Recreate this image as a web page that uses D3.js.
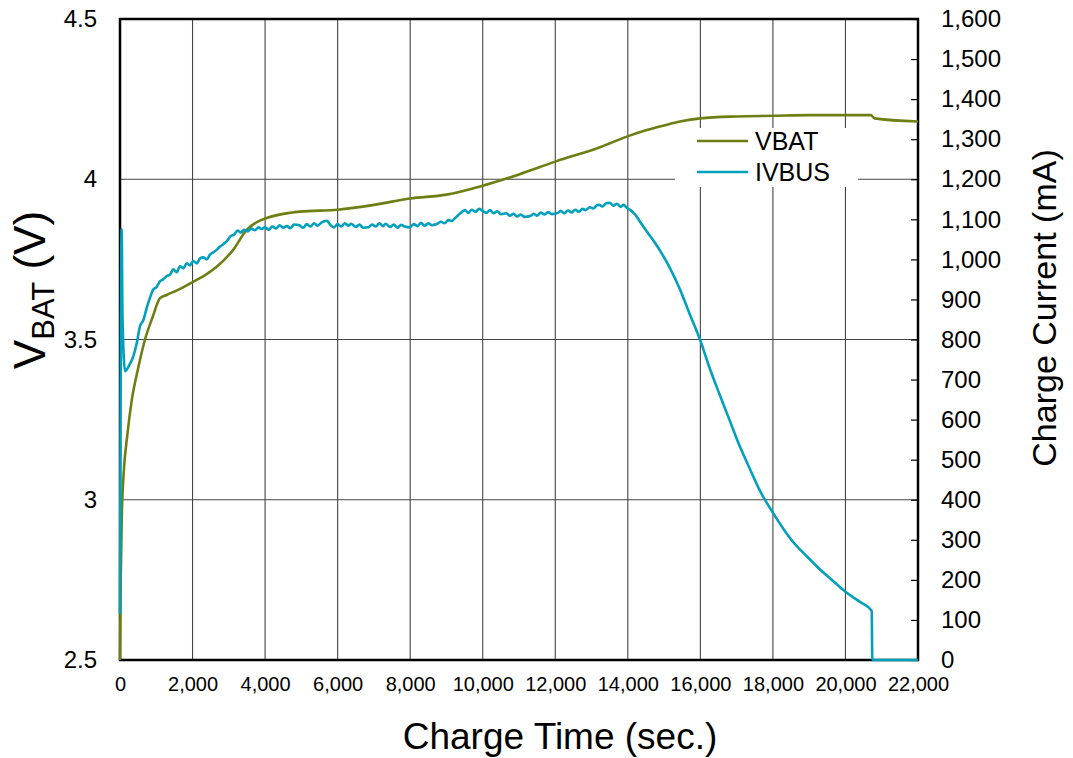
<!DOCTYPE html>
<meta charset="UTF-8">
<style>
  body { margin: 0; background: #fff; }
  svg text { font-family: "Liberation Sans", Arial, sans-serif; fill: #000; }
  .grid line { stroke: #444; stroke-width: 1.1px; }
  .frame { fill: none; stroke: #000; stroke-width: 2.5px; }
  .line { fill: none; stroke-width: 2.6px; stroke-linejoin: round; }
</style>
<body>
<script src="https://cdn.jsdelivr.net/npm/d3@7"></script>
<script>
// VBAT (V)
var vbatTime = [0, 20, 50, 100, 200, 323, 500, 689, 900, 1103, 1287, 1600, 2013, 2400, 2666, 3115, 3493, 3800, 4044, 4500, 4962, 6000, 7000, 8000, 9000, 10000, 11000, 12000, 13233, 13970, 14500, 15000, 15440, 16000, 17000, 18000, 19000, 20000, 20700, 20800, 22000];
var vbatValues = [2.5, 2.75, 2.95, 3.08, 3.2, 3.31, 3.41, 3.5, 3.57, 3.629, 3.639, 3.655, 3.68, 3.705, 3.727, 3.779, 3.842, 3.868, 3.879, 3.892, 3.899, 3.905, 3.92, 3.94, 3.952, 3.98, 4.015, 4.055, 4.1, 4.133, 4.153, 4.168, 4.18, 4.19, 4.196, 4.198, 4.2, 4.2, 4.2, 4.19, 4.18];

// IVBUS charge current (mA)
var ivbusTime = [0, 45, 70, 140, 250, 367, 460, 551, 650, 740, 830, 918, 1000, 1100, 1188, 1288, 1380, 1470, 1560, 1654, 1750, 1840, 1930, 2021, 2120, 2200, 2300, 2390, 2481, 2580, 2680, 2760, 2850, 2951, 3050, 3150, 3240, 3331, 3420, 3520, 3620, 3720, 3820, 3900, 3996, 4100, 4200, 4300, 4400, 4500, 4600, 4700, 4800, 4947, 5050, 5150, 5250, 5350, 5450, 5550, 5707, 5800, 5897, 6000, 6100, 6200, 6300, 6373, 6500, 6600, 6700, 6848, 6950, 7050, 7150, 7250, 7323, 7450, 7550, 7650, 7750, 7850, 7989, 8100, 8200, 8300, 8400, 8500, 8600, 8750, 8850, 8950, 9050, 9150, 9225, 9320, 9420, 9510, 9600, 9700, 9800, 9900, 9985, 10100, 10200, 10300, 10400, 10500, 10651, 10750, 10850, 10950, 11050, 11150, 11316, 11400, 11500, 11600, 11700, 11800, 11900, 12077, 12150, 12250, 12350, 12450, 12550, 12650, 12750, 12837, 12950, 13050, 13150, 13217, 13300, 13400, 13503, 13600, 13700, 13800, 13883, 13980, 14073, 14200, 14336, 14500, 14650, 14888, 15150, 15439, 15700, 15990, 16250, 16542, 16800, 17093, 17350, 17645, 18012, 18300, 18563, 18900, 19299, 19650, 20035, 20400, 20724, 20740, 21500, 22000];
var ivbusValues = [115, 1075, 850, 721, 735, 758, 790, 833, 850, 880, 905, 925, 930, 945, 950, 958, 962, 975, 968, 983, 978, 990, 985, 996, 990, 1002, 1005, 1000, 1012, 1018, 1025, 1032, 1038, 1046, 1058, 1062, 1072, 1067, 1074, 1070, 1077, 1073, 1080, 1076, 1080, 1074, 1082, 1077, 1085, 1079, 1083, 1078, 1087, 1085, 1079, 1088, 1082, 1090, 1084, 1092, 1096, 1086, 1080, 1088, 1082, 1090, 1084, 1089, 1081, 1087, 1079, 1080, 1087, 1082, 1090, 1083, 1089, 1081, 1087, 1079, 1086, 1082, 1080, 1088, 1083, 1091, 1084, 1090, 1085, 1089, 1094, 1090, 1098, 1096, 1102, 1110, 1118, 1123, 1116, 1124, 1119, 1126, 1122, 1116, 1123, 1115, 1120, 1113, 1115, 1109, 1114, 1107, 1112, 1106, 1108, 1114, 1109, 1117, 1112, 1118, 1113, 1116, 1121, 1115, 1122, 1117, 1124, 1119, 1126, 1123, 1130, 1127, 1135, 1136, 1132, 1140, 1141, 1134, 1139, 1131, 1136, 1128, 1123, 1112, 1094, 1073, 1054, 1022, 980, 925, 865, 800, 730, 660, 600, 532, 480, 422, 366, 326, 294, 262, 226, 198, 168, 145, 123, 0, 0, 0];

var xTicks = [0, 2000, 4000, 6000, 8000, 10000, 12000, 14000, 16000, 18000, 20000, 22000];
var vTicks = [2.5, 3, 3.5, 4, 4.5];
var iTicks = [0, 100, 200, 300, 400, 500, 600, 700, 800, 900, 1000, 1100, 1200, 1300, 1400, 1500, 1600];

var seriesNames = ["VBAT", "IVBUS"];
var seriesColors = ["#6f7e12", "#03a0bd"];

var margin = { top: 19, right: 155, bottom: 98, left: 120 },
  W = 1073, H = 758,
  width = W - margin.left - margin.right,
  height = H - margin.top - margin.bottom;

var svg = d3.select("body").append("svg")
  .attr("width", W)
  .attr("height", H);

var g = svg.append("g")
  .attr("transform", "translate(" + margin.left + "," + margin.top + ")");

var x = d3.scaleLinear().domain([0, 22000]).range([0, width]);
var yV = d3.scaleLinear().domain([2.5, 4.5]).range([height, 0]);
var yI = d3.scaleLinear().domain([0, 1600]).range([height, 0]);

// grid
var grid = g.append("g").attr("class", "grid");
grid.selectAll("line.v").data(xTicks).enter().append("line")
  .attr("x1", d => x(d)).attr("x2", d => x(d))
  .attr("y1", 0).attr("y2", height);
grid.selectAll("line.h").data(vTicks).enter().append("line")
  .attr("x1", 0).attr("x2", width)
  .attr("y1", d => yV(d)).attr("y2", d => yV(d));

// axes
var xAxis = g.append("g")
  .attr("transform", "translate(0," + height + ")")
  .call(d3.axisBottom(x).tickValues(xTicks).tickFormat(d3.format(",")).tickSize(0).tickPadding(17));
xAxis.selectAll("text").style("font-size", "20px");

var leftAxis = g.append("g")
  .call(d3.axisLeft(yV).tickValues(vTicks).tickFormat(d3.format("")).tickSize(0).tickPadding(23));
leftAxis.selectAll("text").style("font-size", "24px");

var rightAxis = g.append("g")
  .attr("transform", "translate(" + width + ",0)")
  .call(d3.axisRight(yI).tickValues(iTicks).tickFormat(d3.format(",")).tickSizeInner(-7).tickSizeOuter(0).tickPadding(23));
rightAxis.selectAll("line").style("stroke", "#000").style("stroke-width", "1.2px");
rightAxis.selectAll("text").style("font-size", "24px");

[xAxis, leftAxis, rightAxis].forEach(function(a) { a.select(".domain").remove(); });

g.append("rect").attr("class", "frame")
  .attr("x", 0).attr("y", 0).attr("width", width).attr("height", height);

// lines
var lineV = d3.line().curve(d3.curveMonotoneX).x(d => x(d[0])).y(d => yV(d[1]));
var lineI = d3.line().curve(d3.curveMonotoneX).x(d => x(d[0])).y(d => yI(d[1]));

g.append("path").attr("class", "line")
  .attr("stroke", seriesColors[0])
  .attr("d", lineV(d3.zip(vbatTime, vbatValues)));
g.append("path").attr("class", "line")
  .attr("stroke", seriesColors[1])
  .attr("d", lineI(d3.zip(ivbusTime, ivbusValues)));

// legend
var legend = svg.append("g").attr("transform", "translate(675,128)");
legend.append("rect").attr("width", 183).attr("height", 59).attr("fill", "#fff");
seriesNames.forEach(function(name, i) {
  var ly = 13 + i * 31;
  legend.append("line")
    .attr("x1", 22).attr("x2", 73).attr("y1", ly).attr("y2", ly)
    .attr("stroke", seriesColors[i]).attr("stroke-width", 2.6);
  legend.append("text")
    .attr("x", 80).attr("y", ly).attr("dy", "0.36em")
    .style("font-size", "25px")
    .text(name);
});

// axis titles
svg.append("text")
  .attr("x", 560).attr("y", 749)
  .attr("text-anchor", "middle")
  .style("font-size", "37px")
  .text("Charge Time (sec.)");

svg.append("text")
  .attr("transform", "translate(1056,308) rotate(-90)")
  .attr("text-anchor", "middle")
  .style("font-size", "34px")
  .text("Charge Current (mA)");

var vt = svg.append("text")
  .attr("transform", "translate(45,290) rotate(-90)")
  .attr("text-anchor", "middle")
  .style("font-size", "44px");
vt.append("tspan").text("V");
vt.append("tspan").attr("dy", 9).style("font-size", "31px").text("BAT");
vt.append("tspan").attr("dy", -9).text(" (V)");
</script>
</body>
